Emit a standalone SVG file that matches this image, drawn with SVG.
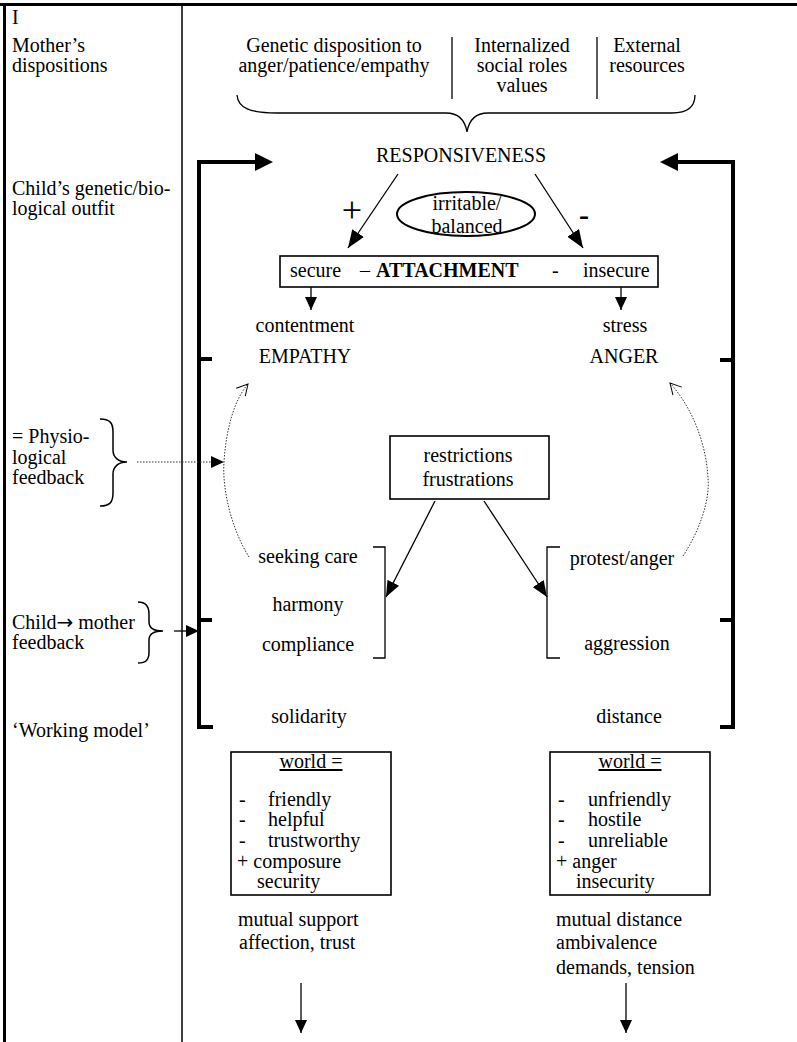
<svg xmlns="http://www.w3.org/2000/svg" width="797" height="1042" viewBox="0 0 797 1042">
  <defs>
    <style>
      text { font-family: "Liberation Serif", "Times New Roman", serif; font-size: 20px; fill: #000; }
      .m { text-anchor: middle; }
      .b { font-weight: bold; }
      .u { text-decoration: underline; }
      .sym { font-family: "DejaVu Sans", sans-serif; }
      .plus { font-size: 36px; text-anchor: middle; }
      .minus { font-size: 30px; text-anchor: middle; font-weight: bold; }
      .thin { stroke: #000; stroke-width: 1.5; fill: none; }
      .line { stroke: #000; stroke-width: 1.3; fill: none; }
      .thick { stroke: #000; stroke-width: 4; fill: none; stroke-linecap: butt; stroke-linejoin: miter; }
      .dot { stroke: #333; stroke-width: 1; fill: none; stroke-dasharray: 1.5 1.5; }
      .box { stroke: #000; stroke-width: 1.6; fill: #fff; }
    </style>
    <marker id="headL" markerUnits="userSpaceOnUse" markerWidth="18" markerHeight="14" refX="18" refY="7" orient="auto">
      <path d="M0,0 L18,7 L0,14 Z" fill="#000"/>
    </marker>
    <marker id="headM" markerUnits="userSpaceOnUse" markerWidth="16" markerHeight="13" refX="16" refY="6.5" orient="auto">
      <path d="M0,0 L16,6.5 L0,13 Z" fill="#000"/>
    </marker>
    <marker id="headS" markerUnits="userSpaceOnUse" markerWidth="13" markerHeight="12" refX="13" refY="6" orient="auto">
      <path d="M0,0 L13,6 L0,12 Z" fill="#000"/>
    </marker>
    <marker id="headOpen" markerUnits="userSpaceOnUse" markerWidth="14" markerHeight="14" refX="12" refY="7" orient="auto" overflow="visible">
      <path d="M1,1 L12,7 L1,13" fill="none" stroke="#000" stroke-width="1"/>
    </marker>
  </defs>

  <!-- page frame and column divider -->
  <g id="frame">
    <line x1="0" y1="4.5" x2="797" y2="4.5" stroke="#000" stroke-width="3"/>
    <line x1="4.5" y1="3" x2="4.5" y2="1042" stroke="#000" stroke-width="3"/>
    <line x1="182" y1="4" x2="182" y2="1042" stroke="#000" stroke-width="1.5"/>
  </g>

  <!-- left column labels -->
  <g id="labels">
    <text x="12" y="24">I</text>
    <text x="12" y="52">Mother’s</text>
    <text x="12" y="72">dispositions</text>
    <text x="12" y="195">Child’s genetic/bio-</text>
    <text x="12" y="215">logical outfit</text>
    <text x="12" y="443">= Physio-</text>
    <text x="12" y="464">logical</text>
    <text x="12" y="484">feedback</text>
    <path class="thin" d="M100,419 C110,419 113,423 113,432 L113,450 C113,457 118,462 127,462 C118,462 113,467 113,474 L113,493 C113,502 110,506 100,506"/>
    <text x="12" y="629">Child<tspan class="sym">→</tspan> mother</text>
    <text x="12" y="649">feedback</text>
    <path class="thin" d="M138,602 C146,602 149,606 149,614 L149,622 C149,628 154,631 163,631 C154,631 149,634 149,640 L149,652 C149,660 146,663 138,663"/>
    <text x="12" y="737">‘Working model’</text>
  </g>

  <!-- mother's dispositions -->
  <g id="dispositions">
    <text class="m" x="334" y="52">Genetic disposition to</text>
    <text class="m" x="334" y="72">anger/patience/empathy</text>
    <line class="line" x1="452" y1="37" x2="452" y2="99"/>
    <text class="m" x="522" y="52">Internalized</text>
    <text class="m" x="522" y="72">social roles</text>
    <text class="m" x="522" y="92">values</text>
    <line class="line" x1="597" y1="37" x2="597" y2="99"/>
    <text class="m" x="647" y="52">External</text>
    <text class="m" x="647" y="72">resources</text>
    <path class="line" d="M237,95 C238,108 250,113 277,113 L446,113 C458,113 465,120 467,132 C469,120 476,113 488,113 L672,113 C688,113 695,106 695,95"/>
  </g>

  <g id="responsiveness">
    <text class="m" x="461" y="162">RESPONSIVENESS</text>
  </g>

  <g id="temperament">
    <ellipse cx="466" cy="214" rx="69" ry="22" fill="none" stroke="#000" stroke-width="2"/>
    <text class="m" x="467" y="210">irritable/</text>
    <text class="m" x="467" y="233">balanced</text>
  </g>

  <g id="attachment">
    <rect class="box" x="280" y="256" width="378" height="31"/>
    <text x="290" y="277">secure</text>
    <text x="360" y="277">–</text>
    <text class="b" x="376" y="277">ATTACHMENT</text>
    <text x="552" y="277">-</text>
    <text x="583" y="277">insecure</text>
  </g>

  <g id="secure-outcome">
    <text class="m" x="305" y="332">contentment</text>
    <text class="m" x="305" y="363">EMPATHY</text>
  </g>
  <g id="insecure-outcome">
    <text class="m" x="625" y="332">stress</text>
    <text class="m" x="624" y="363">ANGER</text>
  </g>

  <g id="restrictions">
    <rect class="box" x="390" y="436" width="159" height="63"/>
    <text class="m" x="468" y="462">restrictions</text>
    <text class="m" x="468" y="486">frustrations</text>
  </g>

  <g id="care-list">
    <text class="m" x="308" y="563">seeking care</text>
    <text class="m" x="308" y="611">harmony</text>
    <text class="m" x="308" y="651">compliance</text>
    <path class="line" d="M373,547 L385,547 L385,658 L373,658"/>
  </g>
  <g id="anger-list">
    <text class="m" x="622" y="565">protest/anger</text>
    <text class="m" x="627" y="650">aggression</text>
    <path class="line" d="M560,547 L547,547 L547,658 L560,658"/>
  </g>

  <g id="solidarity">
    <text class="m" x="309" y="723">solidarity</text>
  </g>
  <g id="distance">
    <text class="m" x="629" y="723">distance</text>
  </g>

  <g id="world-positive">
    <rect class="box" x="231" y="752" width="160" height="143"/>
    <text class="m u" x="311" y="768">world =</text>
    <text x="239" y="806">-</text><text x="268" y="806">friendly</text>
    <text x="239" y="826">-</text><text x="268" y="826">helpful</text>
    <text x="239" y="847">-</text><text x="268" y="847">trustworthy</text>
    <text x="237" y="868">+ composure</text>
    <text x="257" y="888">security</text>
  </g>
  <g id="world-negative">
    <rect class="box" x="550" y="752" width="160" height="143"/>
    <text class="m u" x="630" y="768">world =</text>
    <text x="558" y="806">-</text><text x="588" y="806">unfriendly</text>
    <text x="558" y="826">-</text><text x="588" y="826">hostile</text>
    <text x="558" y="847">-</text><text x="588" y="847">unreliable</text>
    <text x="556" y="868">+ anger</text>
    <text x="576" y="888">insecurity</text>
  </g>

  <g id="relations-positive">
    <text x="238" y="926">mutual support</text>
    <text x="239" y="949">affection, trust</text>
  </g>
  <g id="relations-negative">
    <text x="556" y="926">mutual distance</text>
    <text x="556" y="949">ambivalence</text>
    <text x="556" y="974">demands, tension</text>
  </g>

  <!-- connectors -->
  <g id="connectors">
    <!-- feedback loop brackets -->
    <path class="thick" d="M213,727 L199,727 L199,162 L256,162"/>
    <polygon points="273,162 255,153 255,171" fill="#000"/>
    <line class="thick" x1="199" y1="359" x2="212" y2="359"/>
    <line class="thick" x1="199" y1="620" x2="212" y2="620"/>
    <path class="thick" d="M720,727 L733,727 L733,162 L677,162"/>
    <polygon points="660,162 678,153 678,171" fill="#000"/>
    <line class="thick" x1="720" y1="360" x2="733" y2="360"/>
    <line class="thick" x1="720" y1="620" x2="733" y2="620"/>

    <!-- responsiveness to attachment -->
    <line class="line" x1="398" y1="174" x2="348" y2="248" marker-end="url(#headL)"/>
    <line class="line" x1="535" y1="174" x2="583" y2="248" marker-end="url(#headL)"/>
    <text class="plus" x="352" y="222">+</text>
    <text class="minus" x="584" y="225">-</text>

    <!-- attachment to outcomes -->
    <line class="line" x1="311" y1="287" x2="311" y2="310" marker-end="url(#headS)"/>
    <line class="line" x1="621" y1="287" x2="621" y2="310" marker-end="url(#headS)"/>

    <!-- restrictions to reaction lists -->
    <line class="line" x1="435" y1="501" x2="386" y2="597" marker-end="url(#headM)"/>
    <line class="line" x1="484" y1="501" x2="547" y2="597" marker-end="url(#headM)"/>

    <!-- physiological feedback -->
    <path class="dot" d="M249,557 C232,530 222,490 224,462 C226,430 234,400 248,384" marker-end="url(#headOpen)"/>
    <path class="dot" d="M683,556 C700,530 710,500 708,478 C706,440 690,405 670,383" marker-end="url(#headOpen)"/>
    <line class="dot" x1="137" y1="462" x2="212" y2="462"/>
    <polygon points="224,462 211,456 211,468" fill="#000"/>

    <!-- child to mother feedback -->
    <line class="line" x1="174" y1="631" x2="199" y2="631" marker-end="url(#headS)"/>

    <!-- continuation arrows -->
    <line class="line" x1="301" y1="983" x2="301" y2="1033" marker-end="url(#headS)"/>
    <line class="line" x1="626" y1="983" x2="626" y2="1033" marker-end="url(#headS)"/>
  </g>
</svg>
